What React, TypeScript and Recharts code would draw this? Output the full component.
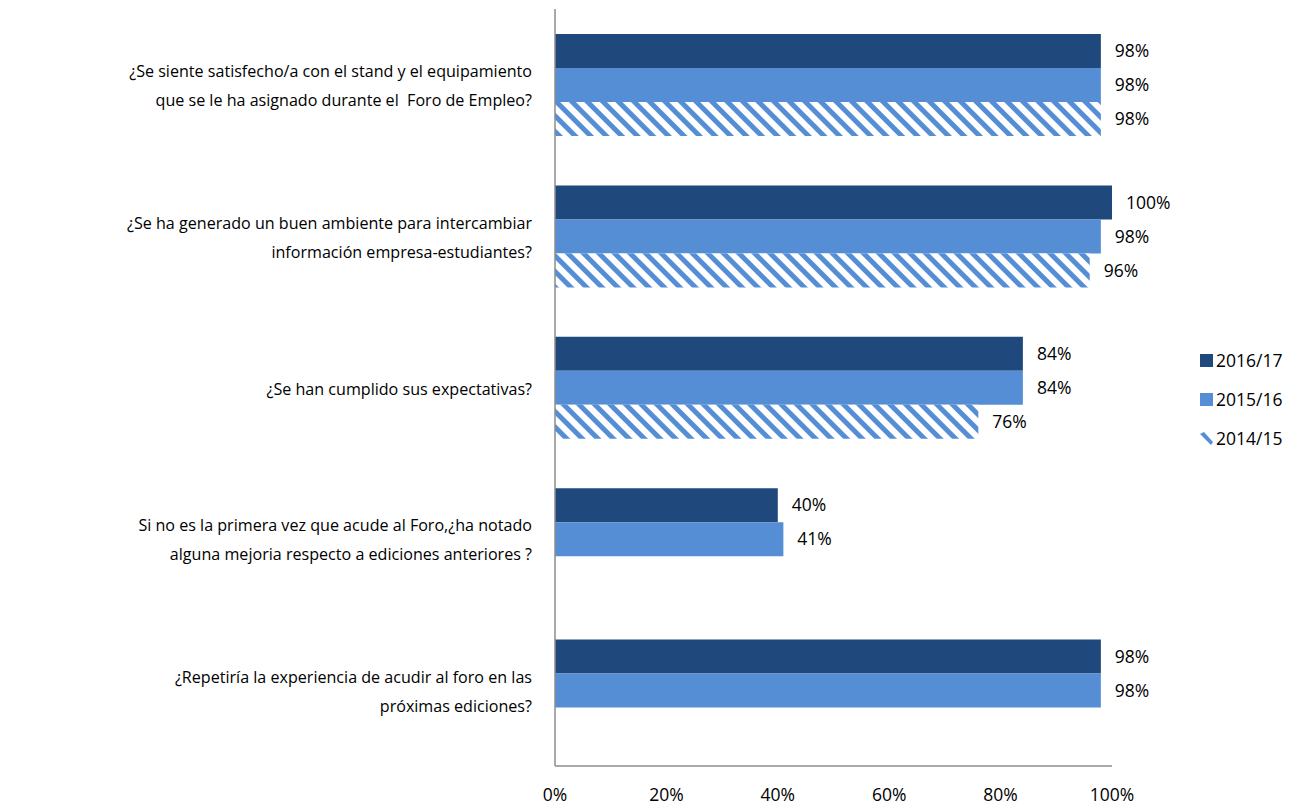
import React from 'react';
import { BarChart, Bar, XAxis, YAxis, LabelList } from 'recharts';

// Question labels, each split into the lines shown
const questions: string[][] = [
  ['¿Se siente satisfecho/a con el stand y el equipamiento', 'que se le ha asignado durante el  Foro de Empleo?'],
  ['¿Se ha generado un buen ambiente para intercambiar', 'información empresa-estudiantes?'],
  ['¿Se han cumplido sus expectativas?'],
  ['Si no es la primera vez que acude al Foro,¿ha notado', 'alguna mejoria respecto a ediciones anteriores ?'],
  ['¿Repetiría la experiencia de acudir al foro en las', 'próximas ediciones?'],
];

const series2016 = [98, 100, 84, 40, 98];
const series2015 = [98, 98, 84, 41, 98];
const series2014: (number | null)[] = [98, 96, 76, null, null];

const seriesNames = ['2016/17', '2015/16', '2014/15'];
const xTicks = [0, 20, 40, 60, 80, 100];

const DARK = '#1F497D';
const LIGHT = '#558ED5';
const FONT = '"Open Sans", "Noto Sans", sans-serif';
const TEXT_SIZE = 16.1;
const NUM_SIZE = 17.5;

const data = questions.map((q, i) => ({
  key: `q${i}`,
  s2016: series2016[i],
  s2015: series2015[i],
  s2014: series2014[i],
}));

const QuestionTick = (props: any) => {
  const { x, y, payload } = props;
  const lines: string[] = questions[payload.index] || [];
  const lh = 29;
  const start = -((lines.length - 1) * lh) / 2;
  const tx = x - 15;
  return (
    <text x={tx} y={y} textAnchor="end" fontSize={TEXT_SIZE} fontFamily={FONT} fill="#000">
      {lines.map((l, i) => (
        <tspan key={i} x={tx} y={y + start + i * lh + 7} style={{ whiteSpace: 'pre' }}>
          {l}
        </tspan>
      ))}
    </text>
  );
};

const pct = (v: any) => (v == null ? '' : `${v}%`);

export default function App() {
  return (
    <div style={{ position: 'absolute', left: 0, top: 0, width: 1303, height: 806, background: '#fff' }}>
      <svg width={0} height={0} style={{ position: 'absolute' }}>
        <defs>
          <pattern id="hatch2014" width={11} height={11} patternUnits="userSpaceOnUse" patternTransform="rotate(-45)">
            <rect x={0} y={0} width={11} height={11} fill="#fff" />
            <rect x={0} y={0} width={5} height={11} fill={LIGHT} />
          </pattern>
        </defs>
      </svg>
      <BarChart
        width={1303}
        height={806}
        data={data}
        layout="vertical"
        margin={{ top: 9, right: 191, bottom: 0, left: 0 }}
        barCategoryGap="16.5%"
        barGap={0}
      >
        <XAxis
          type="number"
          domain={[0, 100]}
          ticks={xTicks}
          tickFormatter={(v) => `${v}%`}
          axisLine={{ stroke: '#8c8c8c', strokeWidth: 1.5 }}
          tickLine={false}
          tick={{ fontSize: NUM_SIZE, fontFamily: FONT, fill: '#000' }}
          tickMargin={17}
          height={40}
          interval={0}
        />
        <YAxis
          type="category"
          dataKey="key"
          width={555}
          axisLine={{ stroke: '#8c8c8c', strokeWidth: 1.5 }}
          tickLine={false}
          tick={<QuestionTick />}
          interval={0}
        />
        <Bar dataKey="s2016" name={seriesNames[0]} fill={DARK} isAnimationActive={false}>
          <LabelList dataKey="s2016" position="right" offset={14} formatter={pct} fontSize={NUM_SIZE} fontFamily={FONT} fill="#000" />
        </Bar>
        <Bar dataKey="s2015" name={seriesNames[1]} fill={LIGHT} isAnimationActive={false}>
          <LabelList dataKey="s2015" position="right" offset={14} formatter={pct} fontSize={NUM_SIZE} fontFamily={FONT} fill="#000" />
        </Bar>
        <Bar dataKey="s2014" name={seriesNames[2]} fill="url(#hatch2014)" isAnimationActive={false}>
          <LabelList dataKey="s2014" position="right" offset={14} formatter={pct} fontSize={NUM_SIZE} fontFamily={FONT} fill="#000" />
        </Bar>
      </BarChart>
      <div style={{ position: 'absolute', left: 1198, top: 340, fontFamily: FONT, fontSize: NUM_SIZE, color: '#000' }}>
        {seriesNames.map((n, i) => (
          <div key={n} style={{ display: 'flex', alignItems: 'center', height: 39 }}>
            <svg width={16} height={14} style={{ marginRight: 2 }}>
              {i < 2 ? (
                <rect x={2} y={1} width={13} height={13} fill={i === 0 ? DARK : LIGHT} />
              ) : (
                <path d="M2 3 L6 1 L15 11 L13 14 Z" fill={LIGHT} />
              )}
            </svg>
            <span>{n}</span>
          </div>
        ))}
      </div>
    </div>
  );
}
